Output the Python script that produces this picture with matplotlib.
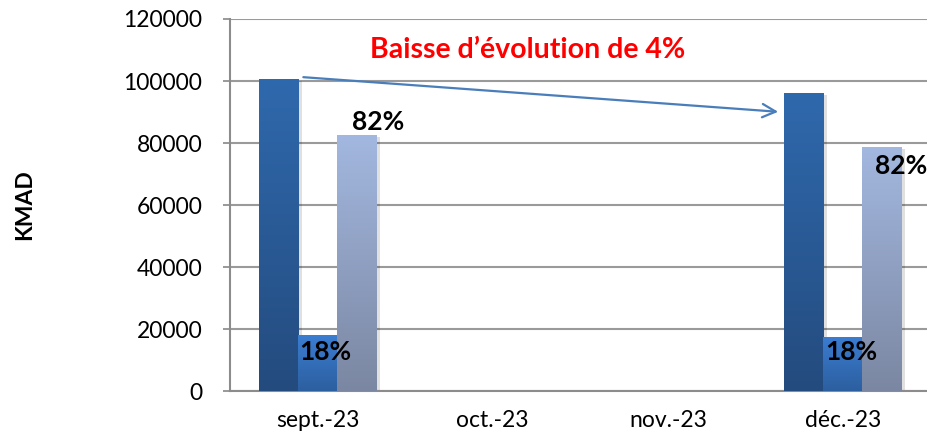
import numpy as np
import matplotlib
matplotlib.use("Agg")
import matplotlib.pyplot as plt
from matplotlib.colors import LinearSegmentedColormap

plt.rcParams['font.family'] = ['Lato', 'DejaVu Sans']

months = ["sept.-23", "oct.-23", "nov.-23", "déc.-23"]
total = [100600, 0, 0, 96000]
part_a = [18000, 0, 0, 17500]
part_b = [82600, 0, 0, 78800]
label_a = ["18%", "", "", "18%"]
label_b = ["82%", "", "", "82%"]
title = "Baisse d\u2019évolution de 4%"

W, H = 927, 440
fig = plt.figure(figsize=(W / 100, H / 100), dpi=100)
ax = fig.add_axes([230 / W, (H - 391) / H, (W - 230) / W, (391 - 19) / H])

x = np.arange(len(months))
bw = 0.223

# gradient colours (top, bottom)
grads = [("#2F69AD", "#244B7E"), ("#3B7DD2", "#2C5F9F"), ("#A3B8E0", "#7B87A2")]
series = [total, part_a, part_b]
offsets = [-bw, 0, bw]

for vals, off, (ctop, cbot) in zip(series, offsets, grads):
    cmap = LinearSegmentedColormap.from_list("g", [cbot, ctop])
    bars = ax.bar(x + off, vals, bw, color=ctop, linewidth=0, zorder=3)
    for b in bars:
        h = b.get_height()
        if h <= 0:
            continue
        # soft shadow
        ax.bar(b.get_x() + b.get_width() / 2 + 0.02, h, bw, bottom=-600,
               color="#000000", alpha=0.12, linewidth=0, zorder=2)
        grad = np.linspace(0, 1, 256).reshape(-1, 1)
        im = ax.imshow(grad, cmap=cmap, origin="lower", aspect="auto",
                       extent=[b.get_x(), b.get_x() + b.get_width(), 0, h],
                       zorder=4)
        im.set_clip_path(b)

# labels
for i in range(len(months)):
    if label_a[i]:
        ax.text(x[i] + 0.045, 12600, label_a[i], ha="center", va="center",
                fontsize=19, fontweight="bold", zorder=6)
# 82% labels: sept above bar, déc inside near top
ax.text(x[0] + bw + 0.12, 86800, label_b[0], ha="center", va="center",
        fontsize=19, fontweight="bold", zorder=6)
ax.text(x[3] + bw + 0.108, 72600, label_b[3], ha="center", va="center",
        fontsize=19, fontweight="bold", zorder=6)

# arrow
ax.annotate("", xy=(2.646, 90000), xytext=(-0.097, 101300),
            arrowprops=dict(arrowstyle="->", color="#4A7EBB", lw=1.6,
                            mutation_scale=24),
            zorder=7)
ax.text(1.2, 110000, title, ha="center", va="center", color="#FF0000",
        fontsize=20.5, fontweight="bold", zorder=7)

ax.set_xlim(-0.5, 3.5 - 3.5 / 175)
ax.set_ylim(0, 120000)
ax.set_yticks(np.arange(0, 120001, 20000))
ax.set_xticks(x)
ax.set_xticklabels(months, fontsize=16.5)
ax.tick_params(axis="y", labelsize=16.5, length=5, color="#888888", width=1.2, pad=15)
ax.tick_params(axis="x", length=0, pad=14)
ax.yaxis.grid(True, color="#9A9A9A", linewidth=1.5, zorder=0)
ax.set_axisbelow(True)
for s in ["top", "right"]:
    ax.spines[s].set_visible(False)
for s in ["left", "bottom"]:
    ax.spines[s].set_color("#8C8C8C")
    ax.spines[s].set_linewidth(1.5)

fig.text(25 / W, 1 - 205 / H, "KMAD", rotation=90, ha="center", va="center",
         fontsize=16.5, fontweight="bold")

fig.savefig("out.png", dpi=100, facecolor="white")
